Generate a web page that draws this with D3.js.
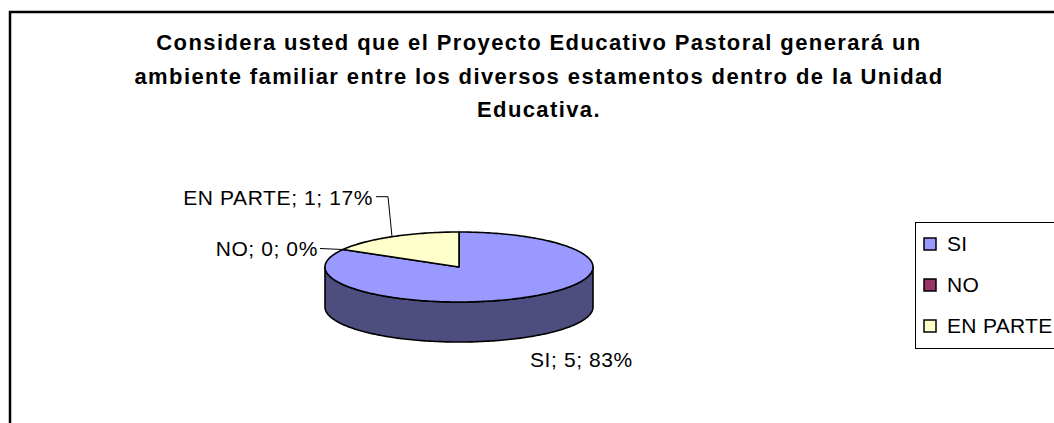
<!DOCTYPE html>
<html>
<head>
<meta charset="utf-8">
<style>
body { margin: 0; background: #fff; }
text { font-family: Arial, "Liberation Sans", sans-serif; }
</style>
</head>
<body>
<svg id="chart" width="1054" height="423"></svg>
<script src="https://d3js.org/d3.v7.min.js"></script>
<script>

// data
var categories = ["SI", "NO", "EN PARTE"];
var values = [5, 0, 1];
var titleLines = [
  "Considera usted que el Proyecto Educativo Pastoral generará un",
  "ambiente familiar entre los diversos estamentos dentro de la Unidad",
  "Educativa."
];

var topColors = ["#9999ff", "#993366", "#ffffcc"];
var sideColors = ["#4d4d80", "#4d1a33", "#808066"];

var svg = d3.select("#chart");

// frame
svg.append("rect")
  .attr("x", 10).attr("y", 12)
  .attr("width", 1070).attr("height", 440)
  .attr("fill", "#fff")
  .attr("stroke", "#000")
  .attr("stroke-width", 2.5);

// title
svg.append("text")
  .attr("x", 539)
  .attr("y", 50)
  .attr("text-anchor", "middle")
  .attr("font-size", 22)
  .attr("font-weight", "bold")
  .attr("letter-spacing", 1.4)
  .selectAll("tspan")
  .data(titleLines)
  .enter().append("tspan")
  .attr("x", 539)
  .attr("dy", function(d, i){ return i == 0 ? 0 : 33.5; })
  .text(function(d){ return d; });

// pie geometry
var cx = 459, cy = 267, rx = 134, ry = 35, depth = 40;
var total = d3.sum(values);

var pie = d3.pie().sort(null).value(function(d){ return d; });
var arcs = pie(values);

function pt(a, dz) {
  return [cx + rx * Math.sin(a), cy - ry * Math.cos(a) + (dz || 0)];
}

function arcPoints(a0, a1, dz) {
  var n = Math.max(2, Math.ceil(Math.abs(a1 - a0) / 0.02));
  var pts = [];
  for (var i = 0; i <= n; i++) pts.push(pt(a0 + (a1 - a0) * i / n, dz));
  return pts;
}

var line = d3.line();
var pieG = svg.append("g");

// sides (front half only: 90deg .. 270deg)
arcs.forEach(function(d, i){
  var a0 = Math.max(d.startAngle, Math.PI / 2);
  var a1 = Math.min(d.endAngle, Math.PI * 1.5);
  if (a1 <= a0) return;
  var pts = arcPoints(a0, a1, 0).concat(arcPoints(a1, a0, depth));
  pieG.append("path")
    .attr("d", line(pts) + "Z")
    .attr("fill", sideColors[i])
    .attr("stroke", "#000")
    .attr("stroke-width", 1.6)
    .attr("stroke-linejoin", "round");
});

// tops
arcs.forEach(function(d, i){
  if (d.endAngle - d.startAngle <= 0) return;
  var pts = [[cx, cy]].concat(arcPoints(d.startAngle, d.endAngle, 0));
  pieG.append("path")
    .attr("d", line(pts) + "Z")
    .attr("fill", topColors[i])
    .attr("stroke", "#000")
    .attr("stroke-width", 1.6)
    .attr("stroke-linejoin", "round");
});

// data labels
var fmt = d3.format(".0%");
var labelG = svg.append("g").attr("font-size", 21).attr("letter-spacing", 0.6);

arcs.forEach(function(d, i){
  var mid = (d.startAngle + d.endAngle) / 2;
  var p = pt(mid, 0);
  var txt = categories[i] + "; " + values[i] + "; " + fmt(values[i] / total);
  if (i == 0) {
    // front slice: label below the side wall
    labelG.append("text")
      .attr("x", p[0] + 4)
      .attr("y", p[1] + depth + 30)
      .text(txt);
  } else if (i == 1) {
    labelG.append("path")
      .attr("d", line([p, [p[0] - 23, p[1] - 1]]))
      .attr("fill", "none").attr("stroke", "#000").attr("stroke-width", 1);
    labelG.append("text")
      .attr("x", p[0] - 25)
      .attr("y", p[1] + 6)
      .attr("text-anchor", "end")
      .text(txt);
  } else {
    labelG.append("path")
      .attr("d", line([p, [p[0] - 4, p[1] - 40], [p[0] - 16, p[1] - 40]]))
      .attr("fill", "none").attr("stroke", "#000").attr("stroke-width", 1);
    labelG.append("text")
      .attr("x", p[0] - 19)
      .attr("y", p[1] - 32)
      .attr("text-anchor", "end")
      .text(txt);
  }
});

// legend
var legend = svg.append("g");
legend.append("rect")
  .attr("x", 915.5).attr("y", 222.5)
  .attr("width", 160).attr("height", 126)
  .attr("fill", "#fff")
  .attr("stroke", "#000")
  .attr("stroke-width", 1);

var item = legend.selectAll("g.item")
  .data(categories)
  .enter().append("g")
  .attr("class", "item")
  .attr("transform", function(d, i){ return "translate(924," + (238 + i * 41) + ")"; });

item.append("rect")
  .attr("width", 12).attr("height", 12)
  .attr("fill", function(d, i){ return topColors[i]; })
  .attr("stroke", "#000")
  .attr("stroke-width", 1.5);

item.append("text")
  .attr("x", 23)
  .attr("y", 13)
  .attr("font-size", 21)
  .attr("letter-spacing", 0.3)
  .text(function(d){ return d; });

</script>
</body>
</html>
